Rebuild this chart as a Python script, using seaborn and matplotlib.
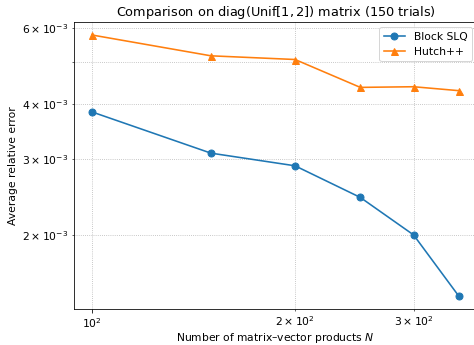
import matplotlib
matplotlib.use("Agg")
import matplotlib.pyplot as plt
import seaborn as sns
import pandas as pd

# Matrix-vector product budgets and the mean relative errors per method
n_products = [100, 150, 200, 250, 300, 350]
block_slq = [3.84e-3, 3.09e-3, 2.89e-3, 2.445e-3, 2.005e-3, 1.452e-3]
hutchpp = [5.77e-3, 5.17e-3, 5.07e-3, 4.375e-3, 4.39e-3, 4.30e-3]

plt.rcParams["font.family"] = ["DejaVu Sans"]
base = 10.7
plt.rcParams.update({
    "font.size": base,
    "axes.titlesize": base * 1.2,
    "axes.labelsize": base,
    "xtick.labelsize": base,
    "ytick.labelsize": base,
    "legend.fontsize": base,
})

W, H, DPI = 474, 345, 72
fig = plt.figure(figsize=(W / DPI, H / DPI), dpi=DPI)
ax = fig.add_axes([74 / W, (H - 309) / H, (477 - 74) / W, (309 - 22) / H])

df_slq = pd.DataFrame({"N": n_products, "err": block_slq})
df_hpp = pd.DataFrame({"N": n_products, "err": hutchpp})

blue, orange = "#1f77b4", "#ff7f0e"
sns.lineplot(data=df_slq, x="N", y="err", ax=ax, color=blue, marker="o",
             markersize=7, markeredgecolor=blue, markeredgewidth=1,
             linewidth=1.6, label="Block SLQ")
sns.lineplot(data=df_hpp, x="N", y="err", ax=ax, color=orange, marker="^",
             markersize=7, markeredgecolor=orange, markeredgewidth=1,
             linewidth=1.6, label="Hutch++")

ax.set_xscale("log")
ax.set_yscale("log")
ax.grid(True, which="both", linestyle=":", color="#b0b0b0", linewidth=0.8)

ax.set_title("Comparison on diag(Unif$[1, 2]$) matrix (150 trials)", pad=6)
ax.set_xlabel("Number of matrix\u2013vector products $N$", labelpad=1.5)
ax.set_ylabel("Average relative error", labelpad=4)

ax.legend(loc="upper right")

fig.savefig("out.png", dpi=DPI)
